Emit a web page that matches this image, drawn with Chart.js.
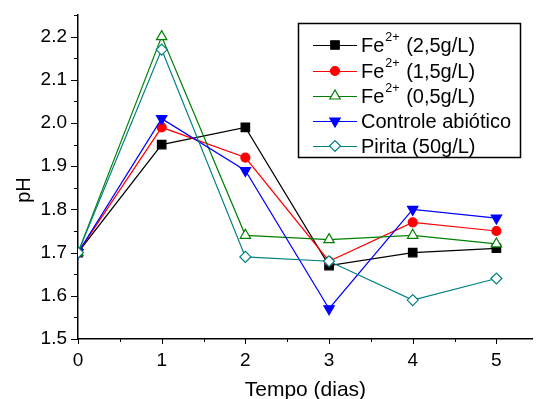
<!DOCTYPE html>
<html><head><meta charset="utf-8">
<script src="https://cdn.jsdelivr.net/npm/chart.js@4.4.1/dist/chart.umd.min.js"></script>
<style>html,body{margin:0;padding:0;background:#fff}#wrap{width:540px;height:399px}</style>
</head><body><div id="wrap"><canvas id="c" width="540" height="399"></canvas></div>
<script>
// ---- data ----
const days = [0, 1, 2, 3, 4, 5];
const fe25 = [1.70, 1.95, 1.99, 1.67, 1.70, 1.71];
const fe15 = [1.70, 1.99, 1.92, 1.68, 1.77, 1.75];
const fe05 = [1.70, 2.20, 1.74, 1.73, 1.74, 1.72];
const controle = [1.70, 2.01, 1.89, 1.57, 1.80, 1.78];
const pirita = [1.70, 2.17, 1.69, 1.68, 1.59, 1.64];
const xTicks = [0, 1, 2, 3, 4, 5];
const yTicks = [1.5, 1.6, 1.7, 1.8, 1.9, 2.0, 2.1, 2.2];
const legendParts = [
  ["Fe", "2+", " (2,5g/L)"],
  ["Fe", "2+", " (1,5g/L)"],
  ["Fe", "2+", " (0,5g/L)"],
  ["Controle abiótico", "", ""],
  ["Pirita (50g/L)", "", ""]
];
const xTitle = "Tempo (dias)";
const yTitle = "pH";

const FONT = "'Liberation Sans', Arial, sans-serif";
const pts = arr => arr.map((v, i) => ({x: days[i], y: v}));

const datasets = [
  {label: "Fe2+ (2,5g/L)", data: pts(fe25), borderColor: '#000000', backgroundColor: '#000000', pointStyle: 'rect', pointRadius: 6, pointRotation: 0},
  {label: "Fe2+ (1,5g/L)", data: pts(fe15), borderColor: '#ff0000', backgroundColor: '#ff0000', pointStyle: 'circle', pointRadius: 4.5, pointRotation: 0},
  {label: "Fe2+ (0,5g/L)", data: pts(fe05), borderColor: '#008000', backgroundColor: '#ffffff', pointStyle: 'triangle', pointRadius: 6, pointRotation: 0},
  {label: "Controle abiótico", data: pts(controle), borderColor: '#0000ff', backgroundColor: '#0000ff', pointStyle: 'triangle', pointRadius: 6, pointRotation: 180},
  {label: "Pirita (50g/L)", data: pts(pirita), borderColor: '#008080', backgroundColor: '#ffffff', pointStyle: 'rectRot', pointRadius: 5.5, pointRotation: 0}
].map((d, i) => Object.assign(d, {order: 4 - i, borderWidth: 1.2, pointBorderWidth: 1.2, pointBackgroundColor: d.backgroundColor, pointBorderColor: d.borderColor, fill: false, tension: 0}));

const extras = {
  id: 'extras',
  afterDraw(chart) {
    const ctx = chart.ctx;
    const xs = chart.scales.x, ys = chart.scales.y;
    const ca = chart.chartArea;
    ctx.save();
    ctx.strokeStyle = '#000';
    ctx.lineWidth = 1;
    for (let v = 1.5; v <= 2.2501; v += 0.05) {
      const major = Math.abs(Math.round(v * 10) - v * 10) < 1e-6;
      const y = Math.round(ys.getPixelForValue(v)) + 0.5;
      ctx.beginPath();
      ctx.moveTo(ca.left, y);
      ctx.lineTo(ca.left - (major ? 7 : 4), y);
      ctx.stroke();
    }
    for (let v = 0; v <= 5.001; v += 0.5) {
      const major = Math.abs(v - Math.round(v)) < 1e-6;
      const x = Math.round(xs.getPixelForValue(v)) + 0.5;
      ctx.beginPath();
      ctx.moveTo(x, ca.bottom);
      ctx.lineTo(x, ca.bottom + (major ? 5 : 3));
      ctx.stroke();
    }
    ctx.save();
    ctx.translate(24, 190);
    ctx.rotate(-Math.PI / 2);
    ctx.fillStyle = '#000';
    ctx.font = "20px " + FONT;
    ctx.textAlign = 'center';
    ctx.textBaseline = 'middle';
    ctx.fillText(yTitle, 0, 0);
    ctx.restore();

    const bx = 298, by = 23, bw = 222, bh = 134;
    ctx.lineWidth = 1.5;
    ctx.strokeStyle = '#000';
    ctx.strokeRect(bx + 0.5, by + 0.5, bw, bh);
    const rows = [45, 71, 96, 121, 146];
    chart.data.datasets.forEach((ds, i) => {
      const y = rows[i];
      ctx.strokeStyle = ds.borderColor;
      ctx.lineWidth = 1.2;
      ctx.beginPath();
      ctx.moveTo(313, y + 0.5); ctx.lineTo(357, y + 0.5);
      ctx.stroke();
      ctx.fillStyle = ds.pointBackgroundColor;
      ctx.strokeStyle = ds.pointBorderColor;
      ctx.lineWidth = 1.2;
      Chart.helpers.drawPoint(ctx, {pointStyle: ds.pointStyle, radius: ds.pointRadius, rotation: ds.pointRotation, borderWidth: 1.2}, 335, y);
      const p = legendParts[i];
      ctx.fillStyle = '#000';
      ctx.textAlign = 'left';
      ctx.textBaseline = 'middle';
      ctx.font = "20px " + FONT;
      let tx = 361;
      ctx.fillText(p[0], tx, y + 1);
      tx += ctx.measureText(p[0]).width;
      if (p[1]) {
        ctx.font = "12.5px " + FONT;
        ctx.fillText(p[1], tx + 1, y - 7);
        tx += ctx.measureText(p[1]).width + 2;
        ctx.font = "20px " + FONT;
        ctx.fillText(p[2], tx, y + 1);
      }
    });
    ctx.restore();
  }
};

new Chart(document.getElementById('c'), {
  type: 'line',
  data: {datasets},
  options: {
    responsive: false,
    animation: false,
    devicePixelRatio: 1,
    layout: {padding: {left: 0, right: 0, top: 15, bottom: 0}},
    plugins: {legend: {display: false}, tooltip: {enabled: false}},
    scales: {
      x: {
        type: 'linear', min: 0, max: 5.435,
        afterBuildTicks: s => { s.ticks = xTicks.map(v => ({value: v})); },
        afterFit: s => { s.height = 60; s.paddingLeft = 0; s.paddingRight = 0; },
        grid: {display: false, drawTicks: false},
        border: {display: true, color: '#000', width: 1.5},
        ticks: {color: '#000', font: {family: FONT, size: 19}, padding: 10, maxRotation: 0, callback: v => String(v)},
        title: {display: true, text: xTitle, color: '#000', font: {family: FONT, size: 21}, padding: {top: 0, bottom: -4}}
      },
      y: {
        type: 'linear', min: 1.5, max: 2.25,
        afterBuildTicks: s => { s.ticks = yTicks.map(v => ({value: v})); },
        afterFit: s => { s.width = 78; s.paddingTop = 0; s.paddingBottom = 0; },
        grid: {display: false, drawTicks: false},
        border: {display: true, color: '#000', width: 1.5},
        ticks: {color: '#000', font: {family: FONT, size: 19}, padding: 11, callback: v => Number(v).toFixed(1)}
      }
    }
  },
  plugins: [extras]
});
</script>
</body></html>
